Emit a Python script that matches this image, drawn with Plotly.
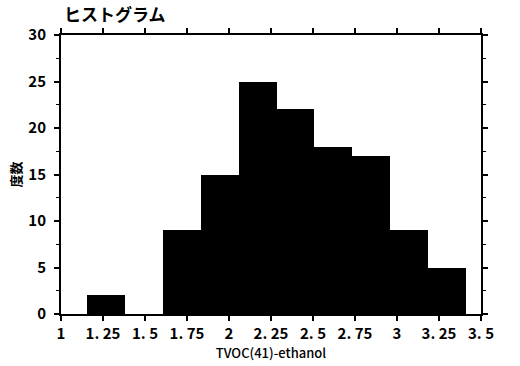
import plotly.graph_objects as go

bin_start = 1.155
bin_width = 0.2256
counts = [2, 0, 9, 15, 25, 22, 18, 17, 9, 5]
x_tick_vals = [1, 1.25, 1.5, 1.75, 2, 2.25, 2.5, 2.75, 3, 3.25, 3.5]
x_tick_text = ["1", "1. 25", "1. 5", "1. 75", "2", "2. 25", "2. 5", "2. 75", "3", "3. 25", "3. 5"]
y_tick_vals = [0, 5, 10, 15, 20, 25, 30]

centers = [bin_start + bin_width * (i + 0.5) for i in range(len(counts))]

font = "Noto Sans CJK JP, Liberation Sans, sans-serif"

fig = go.Figure(go.Bar(x=centers, y=counts, width=[bin_width] * len(counts),
                       marker=dict(color="black", line=dict(width=0))))

fig.update_layout(
    width=520, height=366,
    margin=dict(l=61, r=39, t=35, b=52),
    paper_bgcolor="white", plot_bgcolor="white",
    showlegend=False,
    font=dict(family=font, color="black", size=13),
    title=dict(text="<b>ヒストグラム</b>", x=64 / 520, xanchor="left", y=1 - 15 / 366, yanchor="middle",
               font=dict(size=17, family=font)),
    bargap=0,
)
fig.update_xaxes(range=[1, 3.5], tickvals=x_tick_vals, ticktext=x_tick_text,
                 ticks="outside", ticklen=5, tickwidth=1.5, tickcolor="black",
                 showline=True, linewidth=2, linecolor="black", mirror="ticks",
                 showgrid=False, zeroline=False,
                 tickfont=dict(size=15, family=font, weight=600),
                 title=dict(text="TVOC(41)-ethanol", standoff=1, font=dict(size=13, family=font, weight=500)))
fig.update_yaxes(range=[0, 30], tickvals=y_tick_vals,
                 ticks="outside", ticklen=5, tickwidth=1.5, tickcolor="black",
                 minor=dict(dtick=2.5, ticks="outside", ticklen=3, tickcolor="black", tickwidth=1),
                 showline=True, linewidth=2, linecolor="black", mirror="ticks",
                 showgrid=False, zeroline=False, ticklabelstandoff=5,
                 tickfont=dict(size=15, family=font, weight=600),
                 title=dict(text="<b>度数</b>", standoff=4, font=dict(size=13, family=font)))

fig.write_html("out.html")
